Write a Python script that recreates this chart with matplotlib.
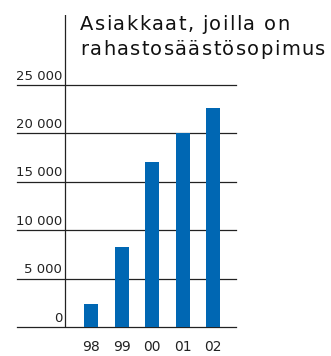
import matplotlib

matplotlib.use("Agg")
import matplotlib.pyplot as plt
import matplotlib.transforms as mtransforms
from matplotlib.font_manager import FontProperties

years = ["98", "99", "00", "01", "02"]
customers = [2400, 8300, 17100, 20000, 22600]
y_ticks = [0, 5000, 10000, 15000, 20000, 25000]
y_tick_labels = ["0", "5 000", "10 000", "15 000", "20 000", "25 000"]
title_lines = ["Asiakkaat, joilla on", "rahastosäästösopimus"]

W, H = 331, 356
BAR_COLOR = "#0067b3"
INK = "#222222"

figure = plt.figure(figsize=(W / 100, H / 100), dpi=100)
# axes spans from the left end of the gridlines to their right end
left_px, right_px, bottom_px, top_px = 17, 236, 327.3, 15
ax = figure.add_axes([left_px / W, 1 - bottom_px / H, (right_px - left_px) / W, (bottom_px - top_px) / H])

step_px = 30.5
first_center_px = 91
ax.set_xlim(-(first_center_px - left_px) / step_px, 4 + (right_px - 213) / step_px)
px_per_unit = (327.3 - 85) / 25000
ax.set_ylim(0, (bottom_px - top_px) / px_per_unit)

positions = list(range(len(years)))
ax.bar(positions, customers, width=14 / step_px, color=BAR_COLOR, zorder=3)

for spine in ax.spines.values():
    spine.set_visible(False)

trans = mtransforms.blended_transform_factory(ax.transAxes, ax.transData)
for value, label in zip(y_ticks, y_tick_labels):
    ax.plot([0, 1], [value, value], transform=trans, color=INK, lw=0.9, clip_on=False, zorder=2)
    ax.text((62 - first_center_px) / step_px, value + 250, label, ha="right", va="bottom",
            fontsize=9.5, color=INK)

axis_x = (65 - first_center_px) / step_px
ax.axvline(axis_x, color=INK, lw=0.9, zorder=2)

ax.set_xticks(positions, years)
ax.set_yticks([])
ax.tick_params(axis="x", length=0, pad=9, labelsize=10, labelcolor=INK)

# title with wide letter spacing, drawn one character at a time
renderer = figure.canvas.get_renderer()
font = FontProperties(family="DejaVu Sans", size=14)


def char_width(ch):
    w, _, _ = renderer.get_text_width_height_descent(ch, font, ismath=False)
    return w


title_left, title_right = 80, 325
widest = max(title_lines, key=lambda s: sum(char_width(c) for c in s))
tracking = (title_right - title_left - sum(char_width(c) for c in widest)) / (len(widest) - 1)
baselines = [30, 55]
for line, base in zip(title_lines, baselines):
    x = title_left
    for ch in line:
        figure.text(x / W, 1 - base / H, ch, fontproperties=font, ha="left", va="baseline", color="#111111")
        x += char_width(ch) + tracking

figure.savefig("out.png", dpi=100)
